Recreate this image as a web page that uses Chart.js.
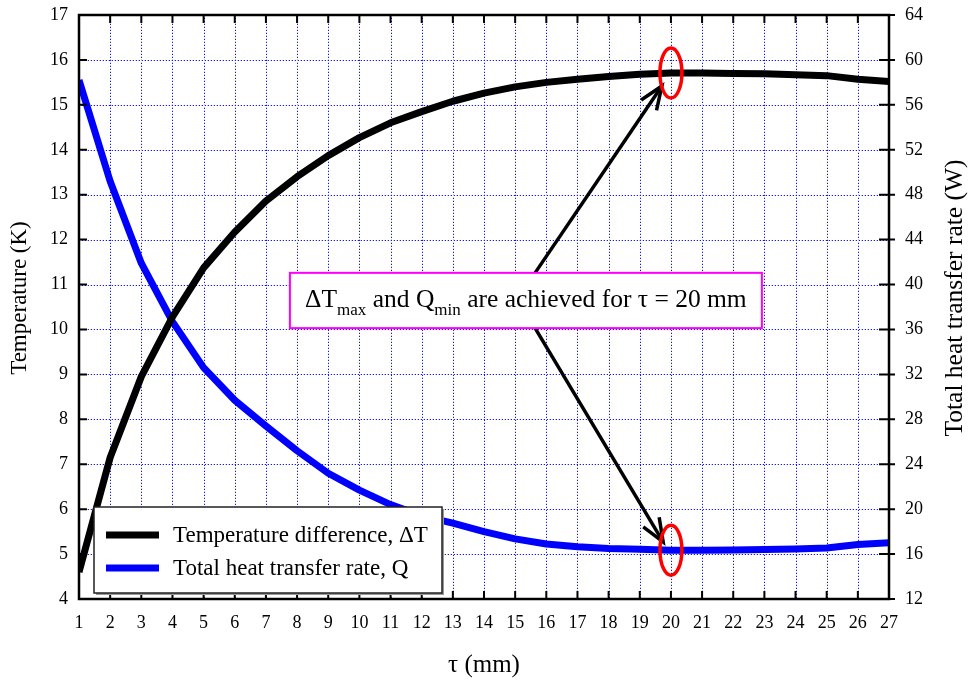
<!DOCTYPE html>
<html lang="en">
<head>
  <meta charset="UTF-8" />
  <title>Temperature difference and heat transfer rate vs τ</title>
  <script src="https://cdn.jsdelivr.net/npm/chart.js"></script>
  <style>
    body {
      margin: 0;
      background: #fff;
    }
    #wrap {
      width: 971px;
      height: 684px;
      position: relative;
    }
  </style>
</head>
<body>
  <div id="wrap"><canvas id="chart"></canvas></div>

  <script>
    // data
    const tau = [1, 2, 3, 4, 5, 6, 7, 8, 9, 10, 11, 12, 13, 14, 15, 16, 17, 18, 19, 20, 21, 22, 23, 24, 25, 26, 27];
    const deltaT = [4.6, 7.15, 8.95, 10.28, 11.37, 12.17, 12.86, 13.4, 13.87, 14.27, 14.6, 14.85, 15.08, 15.26, 15.4,
                    15.5, 15.57, 15.63, 15.68, 15.71, 15.71, 15.7, 15.69, 15.67, 15.65, 15.57, 15.52];
    const heatRate = [58.2, 49.2, 41.9, 36.7, 32.6, 29.7, 27.4, 25.2, 23.2, 21.7, 20.4, 19.4, 18.75, 18.0, 17.35,
                      16.9, 16.66, 16.5, 16.42, 16.35, 16.34, 16.36, 16.4, 16.45, 16.55, 16.85, 17.0];

    const tauRange = [1, 27];
    const tempRange = [4, 17];
    const heatRange = [12, 64];
    const seriesNames = ['Temperature difference, ΔT', 'Total heat transfer rate, Q'];
    const seriesColors = ['#000000', '#0000ff'];

    const serif = "'Liberation Serif', 'Times New Roman', serif";
    const optimumTau = 20;

    // annotation placement (data units: x = τ, y = left axis K)
    const note = { x0: 7.77, x1: 22.92, top: 11.26, bottom: 10.03 };
    const arrows = [
      { from: [15.64, 11.26], to: [19.71, 15.42] },
      { from: [15.64, 10.03], to: [19.75, 5.27] }
    ];

    function drawArrow(ctx, x0, y0, x1, y1) {
      const ang = Math.atan2(y1 - y0, x1 - x0);
      ctx.beginPath();
      ctx.moveTo(x0, y0);
      ctx.lineTo(x1, y1);
      ctx.stroke();
      ctx.beginPath();
      ctx.moveTo(x1 - 25 * Math.cos(ang - 0.38), y1 - 25 * Math.sin(ang - 0.38));
      ctx.lineTo(x1, y1);
      ctx.lineTo(x1 - 25 * Math.cos(ang + 0.38), y1 - 25 * Math.sin(ang + 0.38));
      ctx.stroke();
    }

    const decor = {
      id: 'decor',
      beforeDatasetsDraw(chart) {
        const { ctx, chartArea: a, scales: { x, y } } = chart;
        ctx.save();
        ctx.lineWidth = 1;
        // dotted grid: blue dots with faint grey ones in between
        const dotted = (x0, y0, x1, y1) => {
          ctx.setLineDash([1, 2]);
          ctx.strokeStyle = '#1414ff';
          ctx.lineDashOffset = 0;
          ctx.beginPath(); ctx.moveTo(x0, y0); ctx.lineTo(x1, y1); ctx.stroke();
          ctx.strokeStyle = '#c6c6c6';
          ctx.lineDashOffset = -2;
          ctx.beginPath(); ctx.moveTo(x0, y0); ctx.lineTo(x1, y1); ctx.stroke();
        };
        x.ticks.forEach(t => {
          const px = Math.round(x.getPixelForValue(t.value)) + 0.5;
          dotted(px, a.top, px, a.bottom);
        });
        y.ticks.forEach(t => {
          const py = Math.round(y.getPixelForValue(t.value)) + 0.5;
          dotted(a.left, py, a.right, py);
        });
        ctx.restore();
      },
      afterDatasetsDraw(chart) {
        const { ctx, chartArea: a, scales: { x, y, y1 } } = chart;
        ctx.save();

        // frame and tick marks
        ctx.strokeStyle = '#000';
        ctx.lineWidth = 2.5;
        ctx.strokeRect(a.left, a.top, a.right - a.left, a.bottom - a.top);
        ctx.lineWidth = 2;
        ctx.beginPath();
        x.ticks.forEach(t => {
          const px = x.getPixelForValue(t.value);
          ctx.moveTo(px, a.bottom); ctx.lineTo(px, a.bottom - 8);
          ctx.moveTo(px, a.top); ctx.lineTo(px, a.top + 8);
        });
        y.ticks.forEach(t => {
          const py = y.getPixelForValue(t.value);
          ctx.moveTo(a.left, py); ctx.lineTo(a.left + 8, py);
        });
        y1.ticks.forEach(t => {
          const py = y1.getPixelForValue(t.value);
          ctx.moveTo(a.right - 10, py); ctx.lineTo(a.right + 6, py);
        });
        ctx.stroke();

        // arrows
        ctx.lineWidth = 3.5;
        ctx.lineCap = 'butt';
        ctx.lineJoin = 'miter';
        arrows.forEach(ar => {
          drawArrow(ctx, x.getPixelForValue(ar.from[0]), y.getPixelForValue(ar.from[1]),
                    x.getPixelForValue(ar.to[0]), y.getPixelForValue(ar.to[1]));
        });

        // red ellipses at the optimum
        const i = tau.indexOf(optimumTau);
        const cx = x.getPixelForValue(optimumTau);
        ctx.strokeStyle = '#ff0000';
        ctx.lineWidth = 3.5;
        [y.getPixelForValue(deltaT[i]), y1.getPixelForValue(heatRate[i])].forEach(cy => {
          ctx.beginPath();
          ctx.ellipse(cx, cy, 11, 25, 0, 0, Math.PI * 2);
          ctx.stroke();
        });

        // note box
        const bx0 = x.getPixelForValue(note.x0), bx1 = x.getPixelForValue(note.x1);
        const by0 = y.getPixelForValue(note.top), by1 = y.getPixelForValue(note.bottom);
        ctx.fillStyle = '#fff';
        ctx.fillRect(bx0, by0, bx1 - bx0, by1 - by0);
        ctx.strokeStyle = '#ff00ff';
        ctx.lineWidth = 2;
        ctx.strokeRect(bx0, by0, bx1 - bx0, by1 - by0);

        const parts = [
          ['ΔT', 0], ['max', 1], [' and Q', 0], ['min', 1], [' are achieved for τ = 20 mm', 0]
        ];
        const mainFont = '25.5px ' + serif, subFont = '17px ' + serif;
        let total = 0;
        parts.forEach(p => { ctx.font = p[1] ? subFont : mainFont; total += ctx.measureText(p[0]).width; });
        let tx = (bx0 + bx1) / 2 - total / 2;
        const base = by0 + 34;
        ctx.fillStyle = '#000';
        ctx.textBaseline = 'alphabetic';
        ctx.textAlign = 'left';
        parts.forEach(p => {
          ctx.font = p[1] ? subFont : mainFont;
          ctx.fillText(p[0], tx, p[1] ? base + 8 : base);
          tx += ctx.measureText(p[0]).width;
        });

        // legend
        const lx = a.left + 15, ly = a.bottom - 92, lw = 348, lh = 86;
        ctx.fillStyle = '#999';
        ctx.fillRect(lx + 2, ly + 2, lw, lh);
        ctx.fillStyle = '#fff';
        ctx.fillRect(lx, ly, lw, lh);
        ctx.strokeStyle = '#222';
        ctx.lineWidth = 1.5;
        ctx.strokeRect(lx, ly, lw, lh);
        ctx.font = '23px ' + serif;
        ctx.textBaseline = 'middle';
        seriesNames.forEach((name, k) => {
          const ry = ly + 28 + k * 33;
          ctx.strokeStyle = seriesColors[k];
          ctx.lineWidth = 7;
          ctx.beginPath();
          ctx.moveTo(lx + 12, ry); ctx.lineTo(lx + 65, ry);
          ctx.stroke();
          ctx.fillStyle = '#000';
          ctx.fillText(name, lx + 79, ry + 1);
        });

        // axis titles, both reading bottom to top
        ctx.fillStyle = '#000';
        ctx.textAlign = 'center';
        ctx.textBaseline = 'middle';
        const midY = (a.top + a.bottom) / 2 - 9;
        ctx.save();
        ctx.translate(20, midY);
        ctx.rotate(-Math.PI / 2);
        ctx.font = '23px ' + serif;
        ctx.fillText('Temperature (K)', 0, 0);
        ctx.restore();
        ctx.translate(955, midY);
        ctx.rotate(-Math.PI / 2);
        ctx.font = '25.5px ' + serif;
        ctx.fillText('Total heat transfer rate (W)', 0, 0);
        ctx.restore();
      }
    };

    const tickFont = { family: serif, size: 18 };
    const fitSide = w => s => { s.width = w; s.paddingTop = 0; s.paddingBottom = 0; };

    new Chart(document.getElementById('chart'), {
      type: 'line',
      data: {
        datasets: [
          {
            label: seriesNames[0],
            data: tau.map((t, i) => ({ x: t, y: deltaT[i] })),
            borderColor: seriesColors[0],
            borderWidth: 7,
            yAxisID: 'y'
          },
          {
            label: seriesNames[1],
            data: tau.map((t, i) => ({ x: t, y: heatRate[i] })),
            borderColor: seriesColors[1],
            borderWidth: 7,
            yAxisID: 'y1'
          }
        ]
      },
      options: {
        responsive: true,
        maintainAspectRatio: false,
        animation: false,
        layout: { padding: { top: 15 } },
        elements: {
          point: { radius: 0 },
          line: { tension: 0, fill: false, borderJoinStyle: 'round' }
        },
        plugins: {
          legend: { display: false },
          tooltip: { enabled: false }
        },
        scales: {
          x: {
            type: 'linear',
            min: tauRange[0],
            max: tauRange[1],
            ticks: { stepSize: 1, autoSkip: false, maxRotation: 0, font: tickFont, color: '#000', padding: 13 },
            grid: { display: false, drawTicks: false },
            border: { display: false },
            title: { display: true, text: 'τ (mm)', font: { family: serif, size: 25 }, color: '#000', padding: { bottom: 4 } },
            afterFit: s => { s.height = 85; }
          },
          y: {
            position: 'left',
            min: tempRange[0],
            max: tempRange[1],
            ticks: { stepSize: 1, font: tickFont, color: '#000', padding: 11 },
            grid: { display: false, drawTicks: false },
            border: { display: false },
            afterFit: fitSide(79)
          },
          y1: {
            position: 'right',
            min: heatRange[0],
            max: heatRange[1],
            ticks: { stepSize: 4, font: tickFont, color: '#000', padding: 16 },
            grid: { display: false, drawTicks: false },
            border: { display: false },
            afterFit: fitSide(82)
          }
        }
      },
      plugins: [decor]
    });
  </script>
</body>
</html>
